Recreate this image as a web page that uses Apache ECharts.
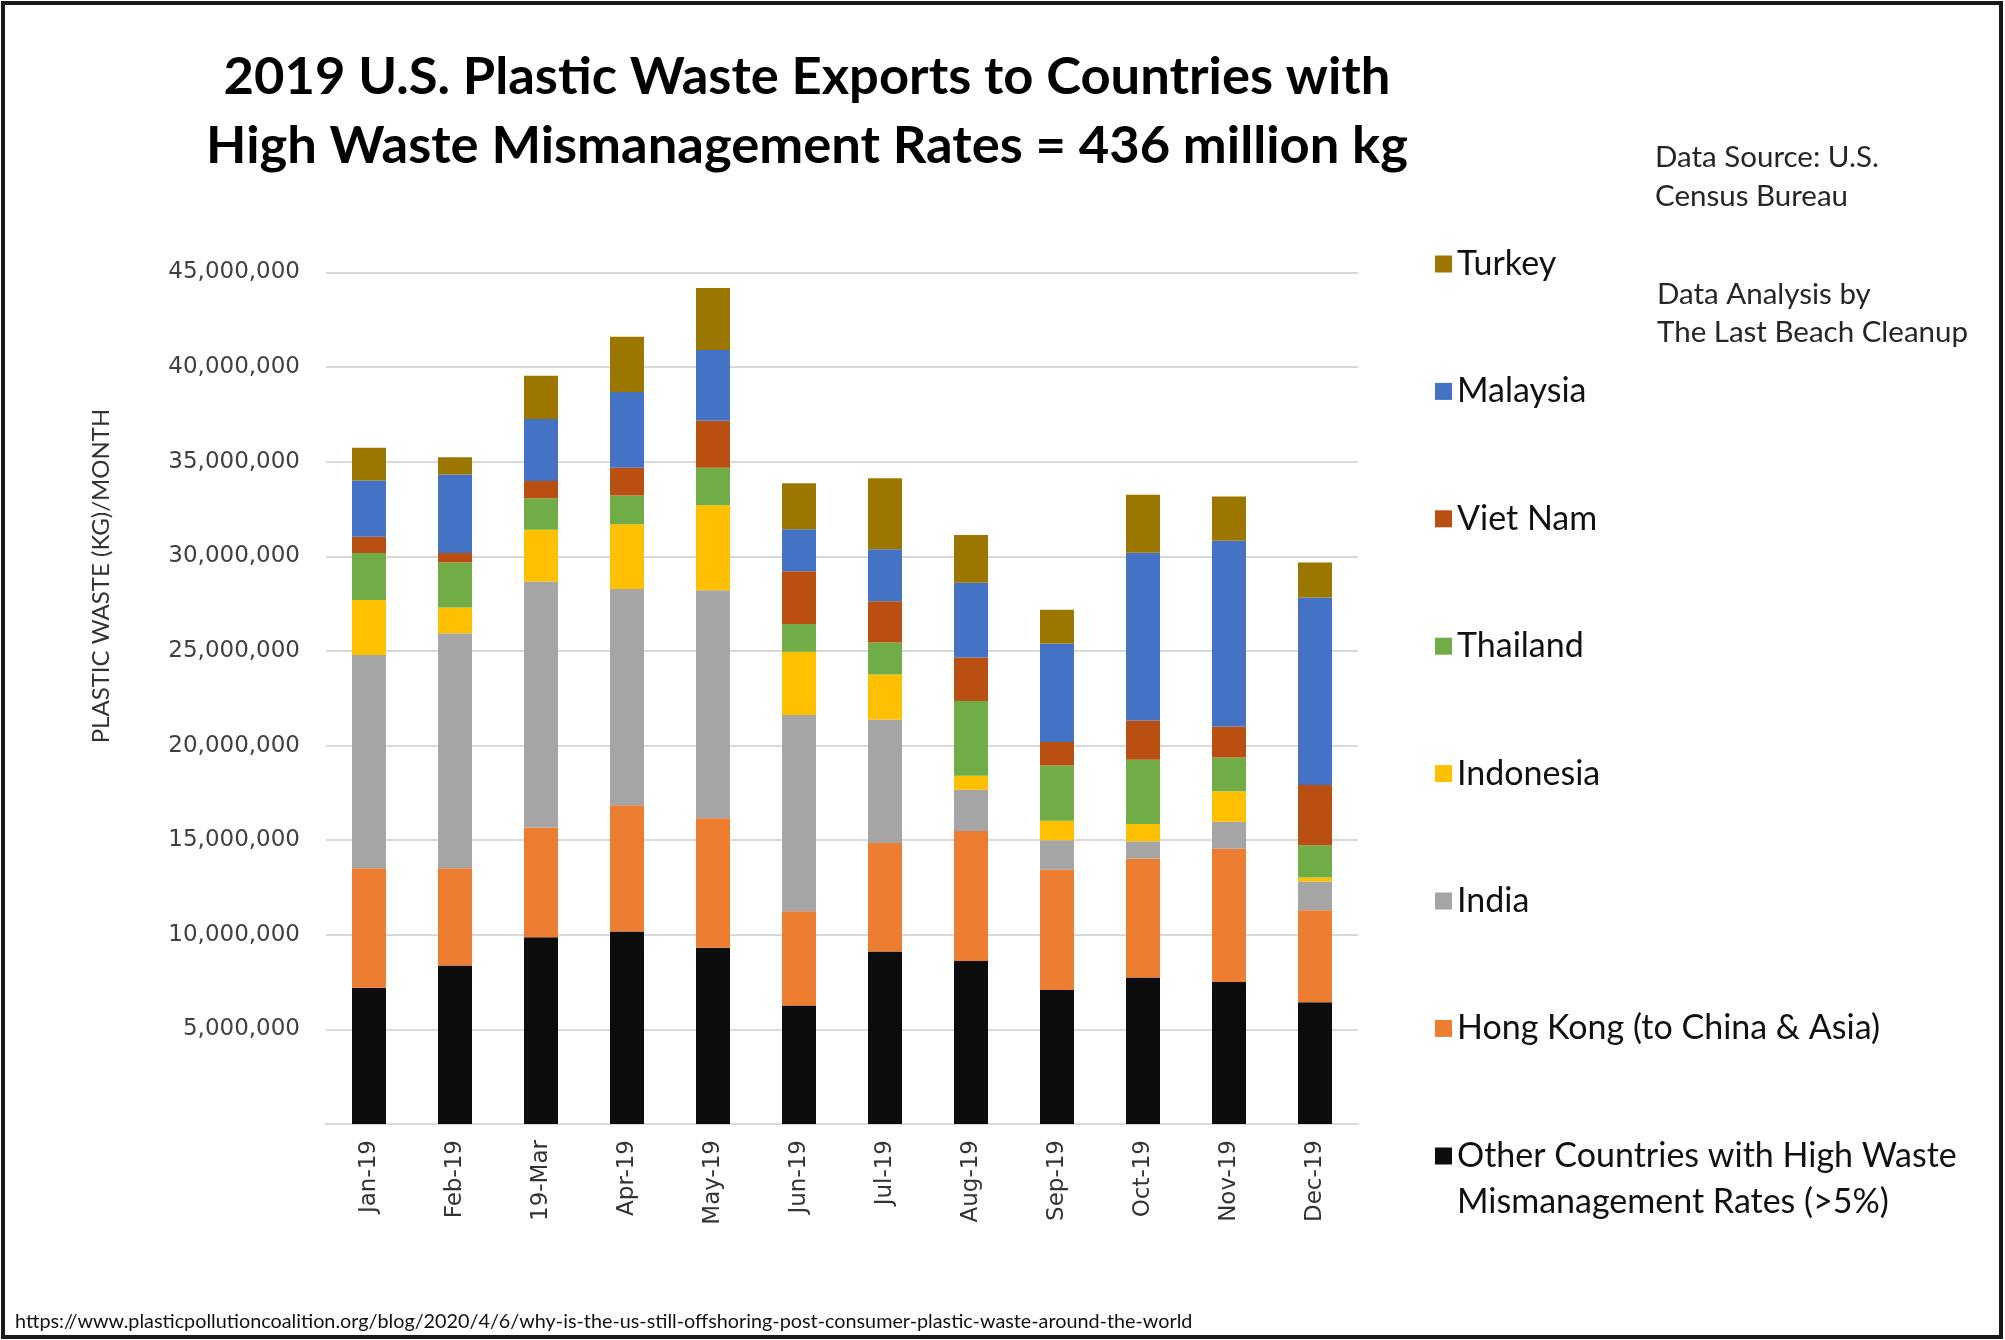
<!DOCTYPE html>
<html>
<head>
<meta charset="utf-8">
<title>2019 U.S. Plastic Waste Exports</title>
<script src="https://cdn.jsdelivr.net/npm/echarts@6/dist/echarts.min.js"></script>
<style>
  html, body { margin: 0; padding: 0; background: #ffffff; }
  #chart { width: 2005px; height: 1340px; }
</style>
</head>
<body>
<div id="chart"></div>
<script>
// Monthly U.S. plastic waste exports (kg), 2019
const months = ['Jan-19', 'Feb-19', '19-Mar', 'Apr-19', 'May-19', 'Jun-19',
                'Jul-19', 'Aug-19', 'Sep-19', 'Oct-19', 'Nov-19', 'Dec-19'];

const otherCountries = [7200000, 8380000, 9870000, 10170000, 9320000, 6260000, 9110000, 8620000, 7080000, 7740000, 7500000, 6440000];
const hongKong       = [6310000, 5130000, 5800000, 6680000, 6840000, 4980000, 5740000, 6870000, 6370000, 6290000, 7050000, 4860000];
const india          = [11270000, 12420000, 13000000, 11420000, 12050000, 10380000, 6530000, 2180000, 1550000, 910000, 1420000, 1520000];
const indonesia      = [2910000, 1370000, 2730000, 3430000, 4490000, 3340000, 2370000, 730000, 1030000, 910000, 1610000, 210000];
const thailand       = [2490000, 2370000, 1670000, 1520000, 1980000, 1460000, 1700000, 3950000, 2920000, 3400000, 1790000, 1700000];
const vietNam        = [850000, 510000, 910000, 1460000, 2490000, 2790000, 2180000, 2310000, 1240000, 2070000, 1640000, 3190000];
const malaysia       = [2980000, 4140000, 3280000, 4010000, 3730000, 2220000, 2740000, 3950000, 5200000, 8870000, 9810000, 9900000];
const turkey         = [1730000, 910000, 2280000, 2910000, 3280000, 2430000, 3760000, 2520000, 1790000, 3060000, 2340000, 1850000];

const yTicks = [0, 5000000, 10000000, 15000000, 20000000, 25000000, 30000000, 35000000, 40000000, 45000000];

const OTHER_NAME = 'Other Countries with High Waste\nMismanagement Rates (>5%)';

// stacked from the bottom up
const stackOrder = [
  { name: OTHER_NAME, data: otherCountries, color: '#0d0d0d' },
  { name: 'Hong Kong (to China & Asia)', data: hongKong, color: '#ED7D31' },
  { name: 'India', data: india, color: '#A5A5A5' },
  { name: 'Indonesia', data: indonesia, color: '#FFC000' },
  { name: 'Thailand', data: thailand, color: '#70AD47' },
  { name: 'Viet Nam', data: vietNam, color: '#BA4F12' },
  { name: 'Malaysia', data: malaysia, color: '#4472C4' },
  { name: 'Turkey', data: turkey, color: '#9C7700' }
];

const sansFont = 'Lato, "Open Sans", sans-serif';
const axisFont = '"DejaVu Sans", Verdana, sans-serif';

const chart = echarts.init(document.getElementById('chart'), null, { renderer: 'canvas' });

const legendText = { fontFamily: sansFont, fontSize: 34, color: '#111111', lineHeight: 46 };

const option = {
  backgroundColor: '#ffffff',
  animation: false,
  color: stackOrder.map(s => s.color),
  title: {
    text: '2019 U.S. Plastic Waste Exports to Countries with\nHigh Waste Mismanagement Rates = 436 million kg',
    left: 802,
    top: 38,
    textAlign: 'center',
    textStyle: { fontFamily: sansFont, fontWeight: 'bold', fontSize: 52.5, lineHeight: 69, color: '#000000' }
  },
  legend: [
    {
      orient: 'vertical',
      left: 1430,
      top: 236,
      itemWidth: 17,
      itemHeight: 17,
      itemGap: 81.4,
      icon: 'rect',
      selectedMode: false,
      textStyle: legendText,
      data: stackOrder.slice(1).reverse().map(s => s.name)
    },
    {
      // leading blank line keeps the marker level with the first text line
      orient: 'vertical',
      left: 1430,
      top: 1151 - 69,
      itemWidth: 17,
      itemHeight: 17,
      icon: 'rect',
      selectedMode: false,
      textStyle: legendText,
      formatter: name => ' \n' + name,
      data: [OTHER_NAME]
    }
  ],
  grid: { left: 326, right: 647, top: 272.5, bottom: 216, containLabel: false },
  xAxis: {
    type: 'category',
    data: months,
    axisLine: { lineStyle: { color: '#d9d9d9', width: 2 } },
    axisTick: { show: false },
    axisLabel: {
      rotate: 90,
      margin: 16,
      fontFamily: axisFont,
      fontSize: 23,
      color: '#333333'
    }
  },
  yAxis: {
    type: 'value',
    min: yTicks[0],
    max: yTicks[yTicks.length - 1],
    interval: yTicks[1] - yTicks[0],
    axisLine: { show: false },
    axisTick: { show: false },
    splitLine: { lineStyle: { color: '#d9d9d9', width: 2 } },
    axisLabel: {
      margin: 26,
      fontFamily: axisFont,
      fontSize: 23,
      color: '#404040',
      formatter: v => (v === 0 ? '' : v.toLocaleString('en-US'))
    }
  },
  series: stackOrder.map(s => ({
    name: s.name,
    type: 'bar',
    stack: 'exports',
    barWidth: 34,
    data: s.data,
    itemStyle: { color: s.color }
  })),
  graphic: [
    {
      type: 'rect',
      shape: { x: 3, y: 3, width: 1998, height: 1334 },
      style: { fill: 'none', stroke: '#1a1a1a', lineWidth: 4 },
      silent: true
    },
    {
      type: 'text',
      x: 101,
      y: 576,
      rotation: Math.PI / 2,
      style: {
        text: 'PLASTIC WASTE (KG)/MONTH',
        fontFamily: sansFont,
        fontSize: 24,
        fill: '#333333',
        align: 'center',
        verticalAlign: 'middle'
      }
    },
    {
      type: 'text',
      x: 1655,
      y: 176.5,
      style: {
        text: 'Data Source: U.S.\nCensus Bureau',
        fontFamily: sansFont,
        fontSize: 29.5,
        lineHeight: 39,
        fill: '#262626',
        verticalAlign: 'middle'
      }
    },
    {
      type: 'text',
      x: 1657,
      y: 313,
      style: {
        text: 'Data Analysis by\nThe Last Beach Cleanup',
        fontFamily: sansFont,
        fontSize: 29.5,
        lineHeight: 38,
        fill: '#262626',
        verticalAlign: 'middle'
      }
    },
    {
      type: 'text',
      x: 15,
      y: 1322,
      style: {
        text: 'https://www.plasticpollutioncoalition.org/blog/2020/4/6/why-is-the-us-still-offshoring-post-consumer-plastic-waste-around-the-world',
        fontFamily: sansFont,
        fontSize: 19.8,
        fill: '#111111',
        verticalAlign: 'middle'
      }
    }
  ]
};

chart.setOption(option);
</script>
</body>
</html>
